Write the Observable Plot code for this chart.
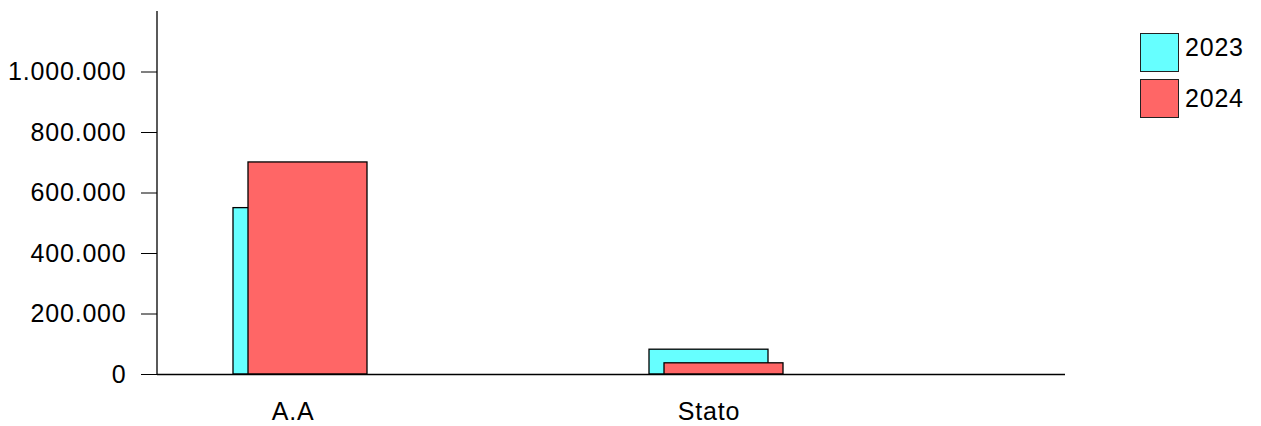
<!DOCTYPE html>
<html>
<head>
<meta charset="utf-8">
<script src="https://cdn.jsdelivr.net/npm/d3@7"></script>
<script src="https://cdn.jsdelivr.net/npm/@observablehq/plot@0.6"></script>
<style>
  html, body { margin: 0; padding: 0; background: #fff; }
  #wrap { position: relative; width: 1261px; height: 426px; font-family: "Liberation Sans", Arial, sans-serif; }
  .lg { position: absolute; width: 37px; height: 37px; border: 1px solid #222; box-sizing: content-box; }
  .lt { position: absolute; font-size: 25px; letter-spacing: 0.8px; color: #000; line-height: 1; }
</style>
</head>
<body>
<div id="wrap"></div>
<script>
const categories = ["A.A", "Stato"];
const values2023 = [550000, 82000];
const values2024 = [701000, 37000];
const seriesNames = ["2023", "2024"];
const seriesColors = ["#66FFFF", "#FF6666"];
const yTicks = [0, 200000, 400000, 600000, 800000, 1000000];

const rows2023 = categories.map((c, i) => ({cat: c, value: values2023[i], series: seriesNames[0]}));
const rows2024 = categories.map((c, i) => ({cat: c, value: values2024[i], series: seriesNames[1]}));

const itFormat = d3.formatLocale({decimal: ",", thousands: ".", grouping: [3], currency: ["", "€"]}).format(",d");

const W = 1261, H = 426;
const mL = 157, mR = 196, mT = 11, mB = 52;

const leftLine = (index, scales, values, dims) => {
  const g = d3.create("svg:line")
    .attr("x1", dims.marginLeft).attr("x2", dims.marginLeft)
    .attr("y1", dims.marginTop).attr("y2", dims.height - dims.marginBottom)
    .attr("stroke", "#000").attr("stroke-width", 1.3);
  return g.node();
};

const chart = Plot.plot({
  width: W,
  height: H,
  marginLeft: mL,
  marginRight: mR,
  marginTop: mT,
  marginBottom: mB,
  style: {fontFamily: "'Liberation Sans', Arial, sans-serif", fontSize: "25px", background: "#fff", overflow: "visible"},
  x: {type: "band", domain: categories, range: [232.5, 767.5], paddingInner: 1 - 119 / 416, paddingOuter: 0, axis: null},
  y: {domain: [0, 1200000], axis: null},
  color: {domain: seriesNames, range: seriesColors},
  marks: [
    Plot.barY(rows2023, {x: "cat", y: "value", fill: "series", stroke: "#000", strokeWidth: 1.3}),
    Plot.barY(rows2024, {x: "cat", y: "value", fill: "series", stroke: "#000", strokeWidth: 1.3, dx: 15}),
    Plot.ruleY([0], {stroke: "#000", strokeWidth: 1.3}),
    leftLine,
    Plot.axisY({ticks: yTicks, tickFormat: itFormat, tickSize: 16, tickPadding: 15, tickStrokeWidth: 1.3, stroke: "#000", fill: "#000", label: null, fontSize: 25}),
    Plot.axisX({tickSize: 0, tickPadding: 28, label: null, fontSize: 25, fill: "#000"})
  ]
});
chart.style.letterSpacing = "0.8px";

const wrap = document.getElementById("wrap");
wrap.appendChild(chart);

const legendTops = [33, 79];
seriesNames.forEach((name, i) => {
  const sw = document.createElement("div");
  sw.className = "lg";
  sw.style.left = "1140px";
  sw.style.top = legendTops[i] + "px";
  sw.style.background = seriesColors[i];
  wrap.appendChild(sw);
  const t = document.createElement("div");
  t.className = "lt";
  t.textContent = name;
  t.style.left = "1185px";
  t.style.top = (legendTops[i] + (i === 0 ? 2 : 7)) + "px";
  wrap.appendChild(t);
});
</script>
</body>
</html>
